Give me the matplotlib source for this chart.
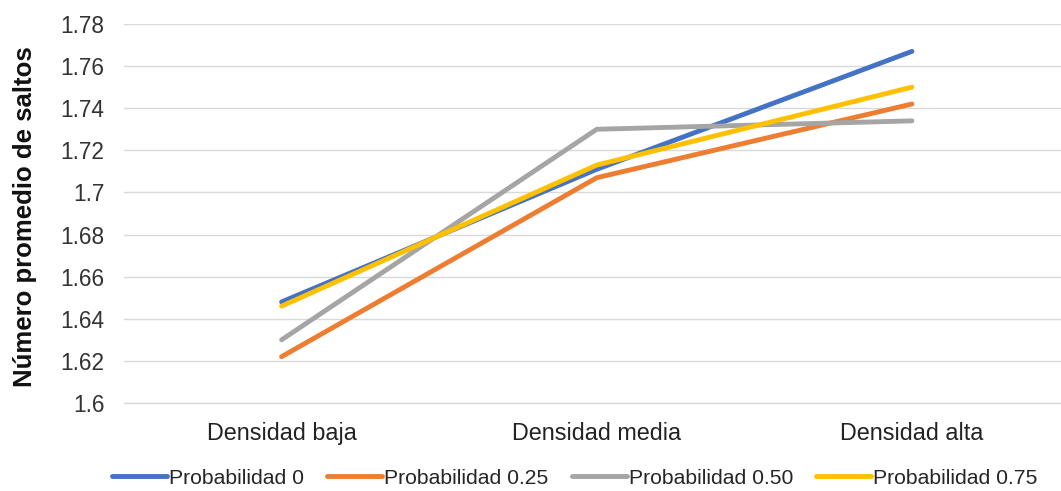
import matplotlib
matplotlib.use("Agg")
import matplotlib.pyplot as plt

plt.rcParams['font.family'] = ['Liberation Sans', 'DejaVu Sans']

categories = ["Densidad baja", "Densidad media", "Densidad alta"]
series_names = ["Probabilidad 0", "Probabilidad 0.25", "Probabilidad 0.50", "Probabilidad 0.75"]
prob_0 = [1.648, 1.711, 1.767]
prob_025 = [1.622, 1.707, 1.742]
prob_050 = [1.630, 1.730, 1.734]
prob_075 = [1.646, 1.713, 1.750]
y_ticks = [1.6, 1.62, 1.64, 1.66, 1.68, 1.7, 1.72, 1.74, 1.76, 1.78]
y_tick_labels = ["1.6", "1.62", "1.64", "1.66", "1.68", "1.7", "1.72", "1.74", "1.76", "1.78"]

colors = ["#4472C4", "#ED7D31", "#A5A5A5", "#FFC000"]

fig = plt.figure(figsize=(10.61, 4.91), dpi=100)
ax = fig.add_axes([124 / 1061, 88 / 491, 945.5 / 1061, 379 / 491])

x = list(range(len(categories)))
for vals, name, col in zip([prob_0, prob_025, prob_050, prob_075], series_names, colors):
    ax.plot(x, vals, color=col, linewidth=3.5, label=name, solid_capstyle='round', zorder=3)

ax.set_xlim(-0.5, len(categories) - 0.5)
ax.set_ylim(1.6, 1.78)
ax.set_yticks(y_ticks)
ax.set_yticklabels(y_tick_labels)
ax.set_xticks(x)
ax.set_xticklabels(categories)

ax.grid(axis='y', color='#D9D9D9', linewidth=1.0, zorder=0)
for side in ['top', 'right', 'left']:
    ax.spines[side].set_visible(False)
ax.spines['bottom'].set_color('#D9D9D9')
ax.spines['bottom'].set_linewidth(1.0)

ax.tick_params(axis='y', length=0, pad=14, labelsize=16.3, labelcolor='#333333')
ax.tick_params(axis='x', length=0, pad=14, labelsize=16.8, labelcolor='#222222')

ax.set_ylabel("Número promedio de saltos", fontsize=18.5, fontweight='bold', color='#111111')
ax.yaxis.set_label_coords(-0.092, 0.493)

leg = fig.legend(loc='center', bbox_to_anchor=(575 / 1061, 1 - 478 / 491), ncol=4,
                 frameon=False, fontsize=15.2, handlelength=2.6, handletextpad=0.1,
                 columnspacing=1.1, labelcolor='#262626')
for line in leg.get_lines():
    line.set_linewidth(3.5)

fig.savefig("out.png", dpi=100)
